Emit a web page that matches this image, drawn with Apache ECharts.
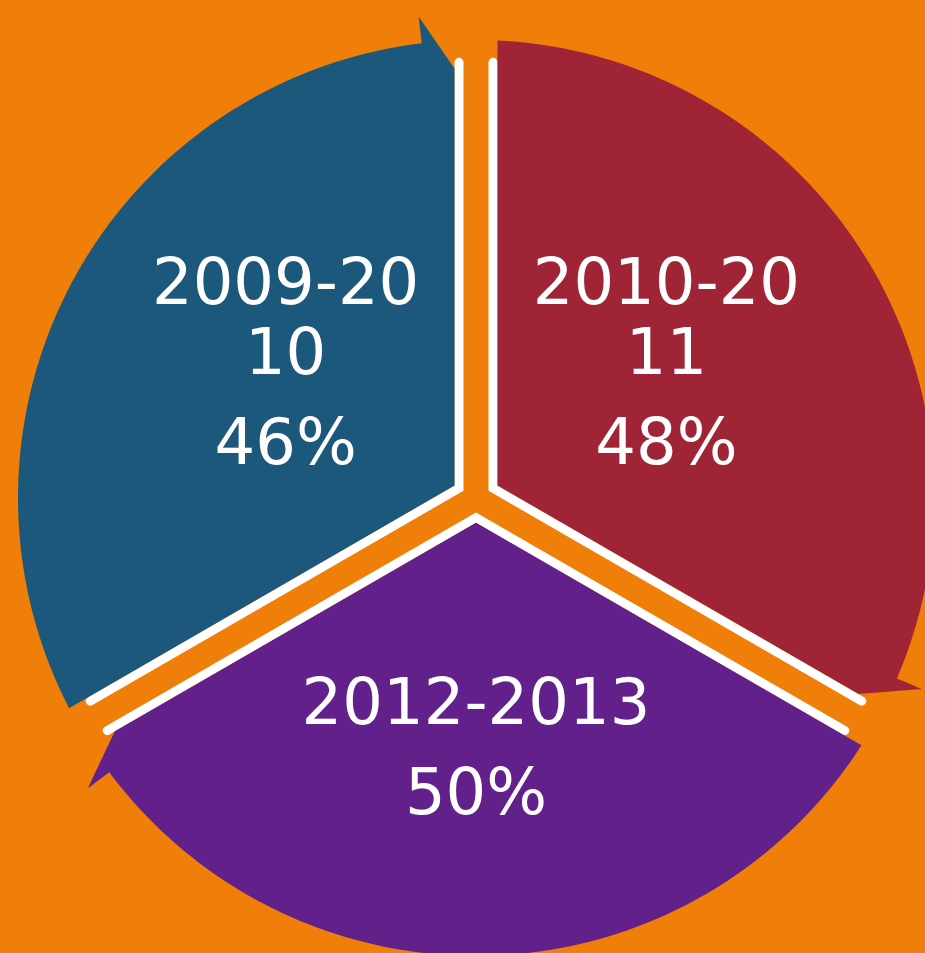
<!DOCTYPE html>
<html>
<head>
<meta charset="utf-8">
<style>
html, body { margin: 0; padding: 0; background: #F07F09; }
#chart { width: 925px; height: 953px; }
</style>
<script src="https://cdn.jsdelivr.net/npm/echarts@6/dist/echarts.min.js"></script>
</head>
<body>
<div id="chart"></div>
<script>
// cycle segments, in clockwise order starting from lower left
var periods = ['2009-2010', '2010-2011', '2012-2013'];
var labelLines = [['2009-20', '10'], ['2010-20', '11'], ['2012-2013']];
var shares = [46, 48, 50];
var segments = [1, 1, 1];
var colors = ['#1B587C', '#9F2536', '#62218A'];

var total = 0;
var rows = [];
for (var i = 0; i < segments.length; i++) {
	rows.push([1, total, total + segments[i], i]);
	total += segments[i];
}

var GAP_FILL = 21.5, GAP_WHITE = 17;
var BARB_ANGLE = 6.8 * Math.PI / 180;
var labelRadius = [0.5, 0.5, 0.59];

function pt(c, r, a) {
	return [c[0] + r * Math.cos(a), c[1] + r * Math.sin(a)];
}

function renderSegment(params, api) {
	var idx = api.value(3);
	var c = api.coord([0, 0]);
	var p0 = api.coord([1, api.value(1)]);
	var p1 = api.coord([1, api.value(2)]);
	var R = Math.sqrt((p0[0] - c[0]) * (p0[0] - c[0]) + (p0[1] - c[1]) * (p0[1] - c[1]));
	var a0 = Math.atan2(p0[1] - c[1], p0[0] - c[0]);
	var a1 = Math.atan2(p1[1] - c[1], p1[0] - c[0]);
	while (a1 <= a0) a1 += 2 * Math.PI;
	var am = (a0 + a1) / 2, half = (a1 - a0) / 2;

	// coloured arrow shape
	var pts = [];
	pts.push(pt(c, GAP_FILL / Math.sin(half), am));
	var aStart = a0 + Math.asin(GAP_FILL / R);
	var aEnd = a1 - BARB_ANGLE;
	var n = 90;
	for (var k = 0; k <= n; k++) {
		pts.push(pt(c, R, aStart + (aEnd - aStart) * k / n));
	}
	pts.push(pt(c, R + 27, aEnd));
	var rt = R - 28;
	pts.push(pt(c, rt, a1 - Math.asin(GAP_FILL / rt)));

	// white edge along the radial sides
	var rw = R - 22;
	var edge = [
		pt(c, rw, a0 + Math.asin(GAP_WHITE / rw)),
		pt(c, GAP_WHITE / Math.sin(half), am),
		pt(c, rw, a1 - Math.asin(GAP_WHITE / rw))
	];

	var lines = labelLines[idx];
	var txt = '';
	for (var j = 0; j < lines.length; j++) txt += '{t|' + lines[j] + '}\n';
	txt += '{p|' + shares[idx] + '%}';
	var lr = R * labelRadius[idx];

	return {
		type: 'group',
		children: [
			{
				type: 'polyline',
				shape: { points: edge },
				style: { stroke: '#FFFFFF', lineWidth: 9, lineCap: 'round', lineJoin: 'miter', fill: null }
			},
			{
				type: 'polygon',
				shape: { points: pts },
				style: { fill: colors[idx], stroke: null }
			},
			{
				type: 'text',
				x: c[0] + lr * Math.cos(am) * 0.96,
				y: c[1] + lr * Math.sin(am) - 6,
				style: {
					text: txt,
					align: 'center',
					verticalAlign: 'middle',
					fill: '#FFFFFF',
					fontFamily: 'DejaVu Sans',
					fontSize: 64,
					rich: {
						t: { fill: '#FFFFFF', fontFamily: 'DejaVu Sans', fontSize: 64, lineHeight: 70 },
						p: { fill: '#FFFFFF', fontFamily: 'DejaVu Sans', fontSize: 64, lineHeight: 110 }
					}
				}
			}
		]
	};
}

var myChart = echarts.init(document.getElementById('chart'));
var option = {
	backgroundColor: '#F07F09',
	animation: false,
	polar: {
		center: [476, 498],
		radius: 458
	},
	angleAxis: {
		type: 'value',
		min: 0,
		max: total,
		startAngle: 210,
		clockwise: true,
		show: false,
		axisLine: { show: false },
		axisTick: { show: false },
		axisLabel: { show: false },
		splitLine: { show: false }
	},
	radiusAxis: {
		type: 'value',
		min: 0,
		max: 1,
		show: false,
		axisLine: { show: false },
		axisTick: { show: false },
		axisLabel: { show: false },
		splitLine: { show: false }
	},
	series: [{
		type: 'custom',
		name: 'cycle',
		coordinateSystem: 'polar',
		encode: { radius: 0, angle: 1 },
		data: rows,
		renderItem: renderSegment
	}]
};
myChart.setOption(option, true);
</script>
</body>
</html>
